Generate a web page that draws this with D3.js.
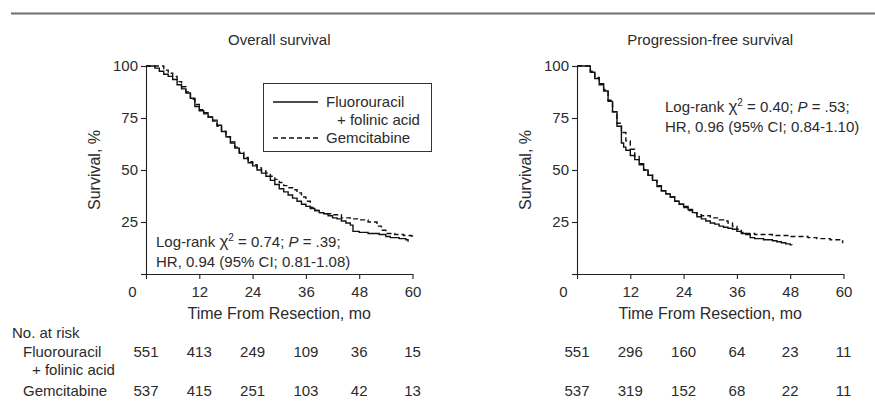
<!DOCTYPE html>
<html>
<head>
<meta charset="utf-8">
<script src="https://cdn.jsdelivr.net/npm/d3@7"></script>
<style>
	body { margin: 0; background: #fff; }
	svg text { font-family: 'Liberation Sans', Arial, sans-serif; fill: #2b2b2b; }
</style>
</head>
<body>
<svg width="875" height="408"></svg>
<script>
// survival curves: [month, percent]
const osFluoro = [
	[0, 100], [1.3, 100], [2, 99], [3, 97.5], [4, 96], [5, 95], [6, 93.5], [7, 91], [8, 89], [9, 87],
	[10, 84.5], [11, 80.5], [12, 78.5], [13, 77], [14, 75.5], [15, 74], [16, 71.5], [17, 68.5], [18, 66],
	[19, 63], [20, 60.5], [21, 58], [22, 55.5], [23, 53.5], [24, 52], [25, 50], [26, 48.5], [27, 47],
	[28, 45], [29, 43], [30, 41], [31, 39.5], [32, 38], [33, 36.5], [34, 35], [35, 33.5], [36, 32.5],
	[37, 31.5], [38, 30.5], [39, 29.5], [40, 29], [41, 28], [42, 27], [43, 26.5], [44, 25.5], [45, 24.5],
	[46, 23.5], [46.6, 20.5], [48, 20], [50, 19.5], [52.5, 19], [54, 18], [55, 17.5], [57, 17],
	[58.5, 16.5], [59, 15.5]
];
const osGem = [
	[0, 100], [3, 100], [4, 98], [5, 96.5], [6, 95], [7, 92.5], [8, 90], [9, 87.5], [10, 84], [11, 81.5],
	[12, 79], [13, 77.5], [14, 75.5], [15, 73.5], [16, 71], [17, 68.5], [18, 66], [19, 63.5], [20, 61],
	[21, 58.5], [22, 56], [23, 54], [24, 52.5], [25, 51], [26, 49.5], [27, 48.5], [28, 47], [29, 45.5],
	[30, 44], [31, 42.5], [32, 41.5], [33, 40.5], [34, 39], [35, 37], [36, 35], [37, 32], [38, 30.5],
	[39, 29.5], [40, 29], [42, 28.5], [44, 27], [46, 26.5], [48, 26], [50, 25], [52, 23], [53, 21],
	[54, 19.5], [56, 19], [58, 18.5], [59.7, 18.3], [60, 17]
];
const pfsFluoro = [
	[0, 100], [2, 100], [3, 97], [4, 94], [5, 91], [6, 88], [7, 83], [8, 78], [9, 71], [10, 63],
	[10.5, 61], [11, 59.5], [12, 57], [13, 55], [14, 52.5], [15, 50], [16, 47.5], [17, 45], [18, 42],
	[19, 40], [20, 38.5], [21, 37], [22, 35], [23, 33.5], [24, 32.5], [25, 31], [26, 29.5], [27, 27.5],
	[28, 26.5], [29, 25.5], [30, 24.5], [31, 24], [32, 23], [33, 22.5], [34, 22], [35, 21.5], [36, 20.5],
	[37, 19.5], [38, 19], [39, 17.5], [40, 17], [42, 16.5], [44, 16], [45, 15.5], [46, 15], [47, 14.5],
	[48, 14], [48.4, 13.9]
];
const pfsGem = [
	[0, 100], [2, 100], [3, 97.5], [4, 94.5], [5, 91.5], [6, 88.5], [7, 83.5], [8, 78], [9, 72.5],
	[10, 68], [11, 64], [12, 60], [13, 56.5], [14, 53], [15, 50], [16, 47.5], [17, 45], [18, 42.5],
	[19, 40], [20, 38.5], [21, 37], [22, 35], [23, 33.5], [24, 32], [25, 30.5], [26, 29.5], [27, 28.5],
	[28, 28], [30, 27], [32, 26], [33, 25.5], [34, 24.5], [35, 23], [36, 21.5], [37, 20], [38, 19.5],
	[40, 19], [44, 18.5], [48, 18], [52, 17.5], [54, 17], [57, 16.5], [59.6, 16], [59.8, 14.8]
];

// axis ticks
const monthTicks = [0, 12, 24, 36, 48, 60];
const pctTicks = [0, 25, 50, 75, 100];

// numbers at risk
const riskOsFluoro = [551, 413, 249, 109, 36, 15];
const riskOsGem = [537, 415, 251, 103, 42, 13];
const riskPfsFluoro = [551, 296, 160, 64, 23, 11];
const riskPfsGem = [537, 319, 152, 68, 22, 11];

var svg = d3.select('svg');

// rule under the (cut off) caption
svg.append('line')
	.attr('x1', 11).attr('x2', 875)
	.attr('y1', 13.5).attr('y2', 13.5)
	.attr('stroke', '#6e6e6e')
	.attr('stroke-width', 2);

function drawPanel(x0, title, fluoro, gem, riskF, riskG, stat) {
	var x = d3.scaleLinear().domain([0, 60]).range([x0, x0 + 266.5]);
	var y = d3.scaleLinear().domain([0, 100]).range([274, 66]);
	var g = svg.append('g');

	g.append('text')
		.attr('x', (x(0) + x(60)) / 2)
		.attr('y', 45)
		.attr('text-anchor', 'middle')
		.style('font-size', '15px')
		.text(title);

	// y axis
	var ya = g.append('g')
		.attr('transform', `translate(${x(0)},0)`)
		.call(d3.axisLeft(y).tickValues(pctTicks).tickSize(5).tickSizeOuter(0).tickPadding(3));
	ya.selectAll('text').style('font-size', '15px').attr('fill', '#2b2b2b')
		.filter((d) => d === 0).remove();

	// x axis
	var xa = g.append('g')
		.attr('transform', 'translate(0,274)')
		.call(d3.axisBottom(x).tickValues(monthTicks).tickSize(5).tickSizeOuter(0).tickPadding(7));
	xa.selectAll('text').style('font-size', '15px').attr('fill', '#2b2b2b')
		.filter((d) => d === 0).attr('x', -14);
	svg.selectAll('.domain, .tick line').attr('stroke', '#222').attr('stroke-width', 1.1);

	g.append('text')
		.attr('x', (x(0) + x(60)) / 2)
		.attr('y', 319)
		.attr('text-anchor', 'middle')
		.style('font-size', '16px')
		.text('Time From Resection, mo');

	g.append('text')
		.attr('transform', `translate(${x(0) - 46},${y(50)}) rotate(-90)`)
		.attr('text-anchor', 'middle')
		.style('font-size', '16px')
		.text('Survival, %');

	// curves
	var line = d3.line()
		.curve(d3.curveStepAfter)
		.x((d) => x(d[0]))
		.y((d) => y(d[1]));

	g.append('path')
		.datum(gem)
		.attr('d', line)
		.attr('fill', 'none')
		.attr('stroke', '#111')
		.attr('stroke-width', 1.4)
		.attr('stroke-dasharray', '5,3');

	g.append('path')
		.datum(fluoro)
		.attr('d', line)
		.attr('fill', 'none')
		.attr('stroke', '#111')
		.attr('stroke-width', 1.4);

	// log-rank text
	var t1 = g.append('text').attr('x', stat.x).attr('y', stat.y).style('font-size', '15px');
	t1.append('tspan').text('Log-rank ');
	t1.append('tspan').style('font-size', '17px').text('χ');
	t1.append('tspan').attr('dy', -6).style('font-size', '10px').text('2');
	t1.append('tspan').attr('dy', 6).text(' = ' + stat.chi + '; ');
	t1.append('tspan').style('font-style', 'italic').text('P');
	t1.append('tspan').text(' = ' + stat.p + ';');
	g.append('text')
		.attr('x', stat.x).attr('y', stat.y + 19.5)
		.style('font-size', '15px')
		.text(stat.hr);

	// numbers at risk
	g.selectAll('.rf')
		.data(riskF)
		.enter()
		.append('text')
		.attr('x', (d, i) => x(monthTicks[i]))
		.attr('y', 357)
		.attr('text-anchor', 'middle')
		.style('font-size', '15px')
		.text((d) => d);

	g.selectAll('.rg')
		.data(riskG)
		.enter()
		.append('text')
		.attr('x', (d, i) => x(monthTicks[i]))
		.attr('y', 396)
		.attr('text-anchor', 'middle')
		.style('font-size', '15px')
		.text((d) => d);
}

drawPanel(146, 'Overall survival', osFluoro, osGem, riskOsFluoro, riskOsGem,
	{ x: 156, y: 247, chi: '0.74', p: '.39', hr: 'HR, 0.94 (95% CI; 0.81-1.08)' });
drawPanel(577, 'Progression-free survival', pfsFluoro, pfsGem, riskPfsFluoro, riskPfsGem,
	{ x: 665, y: 112, chi: '0.40', p: '.53', hr: 'HR, 0.96 (95% CI; 0.84-1.10)' });

// legend
var lg = svg.append('g');
lg.append('rect')
	.attr('x', 263.5).attr('y', 83.5)
	.attr('width', 168).attr('height', 68)
	.attr('fill', '#fff')
	.attr('stroke', '#333');
lg.append('line').attr('x1', 273).attr('x2', 318).attr('y1', 102).attr('y2', 102)
	.attr('stroke', '#111').attr('stroke-width', 1.4);
lg.append('line').attr('x1', 273).attr('x2', 318).attr('y1', 138).attr('y2', 138)
	.attr('stroke', '#111').attr('stroke-width', 1.4).attr('stroke-dasharray', '5,3');
lg.append('text').attr('x', 326).attr('y', 107).style('font-size', '15px').text('Fluorouracil');
lg.append('text').attr('x', 337).attr('y', 125).style('font-size', '15px').text('+ folinic acid');
lg.append('text').attr('x', 326).attr('y', 143).style('font-size', '15px').text('Gemcitabine');

// risk table labels
svg.append('text').attr('x', 12).attr('y', 338).style('font-size', '15px').text('No. at risk');
svg.append('text').attr('x', 23).attr('y', 357).style('font-size', '15px').text('Fluorouracil');
svg.append('text').attr('x', 32).attr('y', 375).style('font-size', '15px').text('+ folinic acid');
svg.append('text').attr('x', 23).attr('y', 396).style('font-size', '15px').text('Gemcitabine');
</script>
</body>
</html>
